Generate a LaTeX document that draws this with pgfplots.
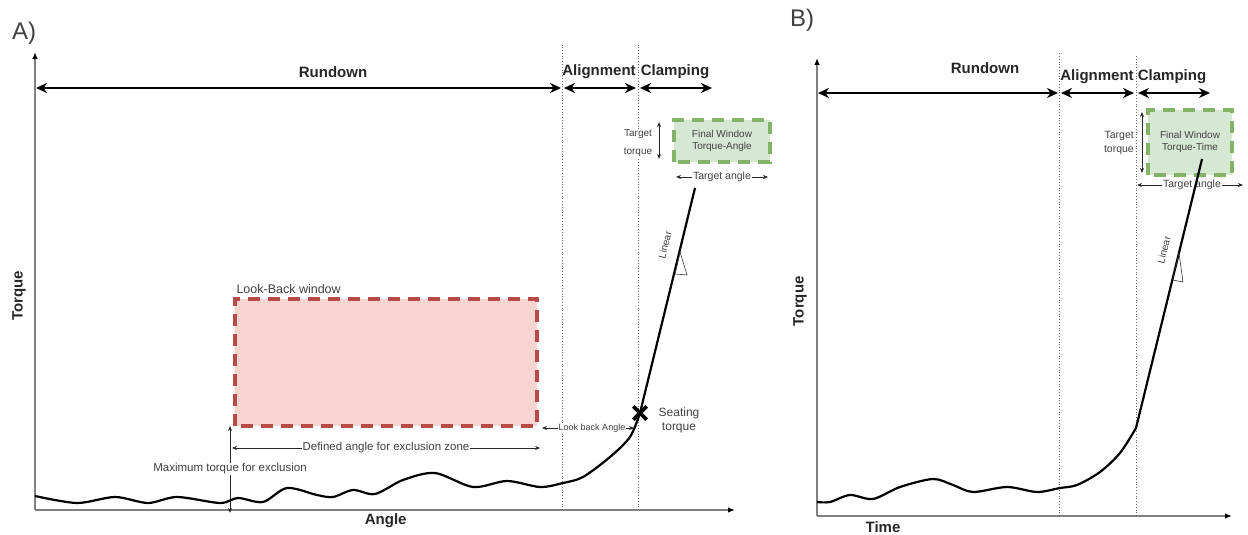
\documentclass[border=0pt]{standalone}
\usepackage{fontspec}
\setmainfont{Liberation Sans}
\usepackage{pgfplots}
\pgfplotsset{compat=1.18}
\usetikzlibrary{arrows.meta}
\definecolor{gfill}{HTML}{D5E8D4}
\definecolor{gline}{HTML}{82B366}
\definecolor{rfill}{HTML}{F9D5D2}
\definecolor{rline}{HTML}{B84A45}
\definecolor{txt}{HTML}{404040}
\definecolor{axgray}{HTML}{808080}
\newcommand{\fs}[1]{\fontsize{#1}{#1}\selectfont}
\tikzset{
  big/.style={line width=2pt, {Stealth[length=11pt,width=10pt,inset=3.5pt]}-{Stealth[length=11pt,width=10pt,inset=3.5pt]}},
  thinarr/.style={line width=0.8pt, color=black!85, {Stealth[length=5pt,width=4pt]}-{Stealth[length=5pt,width=4pt]}},
  vdot/.style={dotted, line width=0.8pt, color=black!60},
  phase/.style={font=\fs{15}\bfseries, text=black!85},
  small/.style={font=\fs{11.5}, text=txt},
}
\pgfplotsset{
  panel/.style={
    x=1pt, y=1pt, axis lines=left, enlargelimits=false, clip=false,
    xtick=\empty, ytick=\empty,
    axis line style={axgray, line width=1.3pt, -{Latex[length=7pt,width=5.5pt,black]}},
    anchor=south west,
    label style={font=\fs{15}\bfseries, text=black!85},
  }
}
\begin{document}
\begin{tikzpicture}
\useasboundingbox (0,0) rectangle (1248pt,535pt);
% ---------------- Panel A ----------------
\begin{axis}[panel, at={(35pt,25pt)}, xmin=35, xmax=735, ymin=25, ymax=483,
  xlabel={Angle}, ylabel={Torque},
  xlabel style={at={(axis description cs:0.501,-0.024)}, anchor=center},
  ylabel style={at={(axis description cs:-0.023,0.467)}, anchor=center, rotate=0},
]
\node[font=\fs{24}, text=black!75] at (axis cs:24,502) {A)};
\draw[vdot] (axis cs:562,25) -- (axis cs:562,490);
\draw[vdot] (axis cs:638,25) -- (axis cs:638,490);
\draw[big] (axis cs:36,447) -- (axis cs:561,447);
\draw[big] (axis cs:564,447) -- (axis cs:636,447);
\draw[big] (axis cs:640,447) -- (axis cs:712,447);
\node[phase] at (axis cs:333,463) {Rundown};
\node[phase] at (axis cs:599,463) {Alignment};
\node[phase] at (axis cs:675,463) {Clamping};
% look-back window
\draw[rline, fill=rfill, line width=3.5pt, dash pattern=on 12pt off 8pt] (axis cs:235,109) rectangle (axis cs:537,236);
\node[font=\fs{12.5}, text=txt, anchor=west] at (axis cs:233,246) {Look-Back window};
\draw[thinarr] (axis cs:230,109) -- (axis cs:230,22);
\node[small, fill=white, inner sep=1pt] at (axis cs:230,66) {Maximum torque for exclusion};
\draw[thinarr] (axis cs:232,87) -- (axis cs:540,87);
\node[small, fill=white, inner sep=1pt] at (axis cs:386,87) {Defined angle for exclusion zone};
\draw[thinarr] (axis cs:542,107) -- (axis cs:634,107);
\node[font=\fs{9}, text=txt, fill=white, inner sep=1pt] at (axis cs:592,107) {Look back Angle};
% final window
\draw[gline, fill=gfill, line width=3.5pt, dash pattern=on 12pt off 8pt] (axis cs:674,373) rectangle (axis cs:770,415);
\node[font=\fontsize{10}{12}\selectfont, text=txt, align=center] at (axis cs:722,394) {Final Window\\Torque-Angle};
\node[font=\fontsize{10}{18}\selectfont, text=txt, align=center, fill=white, inner sep=1pt] at (axis cs:638,392) {Target\\torque};
\draw[thinarr] (axis cs:659,413) -- (axis cs:659,376);
\draw[thinarr] (axis cs:676,358) -- (axis cs:768,358);
\node[font=\fs{10.5}, text=txt, fill=white, inner sep=1pt] at (axis cs:722,358) {Target angle};
% curve
\addplot[black, line width=2.2pt, smooth, tension=0.5] coordinates {(35,39)(77,32)(115,38)(148,32)(177,38)(220,32)(238,37)(263,33)(287,47)(317,40)(333,38)(353,45)(375,41)(403,55)(435,62)(473,48)(507,54)(540,48)(563,52)(583,58)(610,78)(630,98)(640,122)};
\addplot[black, line width=2.2pt] coordinates {(640,122)(695,347)};
\addplot[black, line width=3.6pt, mark=x, mark size=9.5pt, only marks] coordinates {(640,122)};
\node[font=\fontsize{12}{14}\selectfont, text=txt, align=center] at (axis cs:679,115) {Seating\\torque};
\node[font=\fs{10}, text=txt, rotate=76] at (axis cs:665,290) {Linear};
\draw[black!80, line width=0.6pt] (axis cs:680,283) -- (axis cs:675,261) -- (axis cs:687,260) -- cycle;
\end{axis}
% ---------------- Panel B ----------------
\begin{axis}[panel, at={(817pt,19pt)}, xmin=817, xmax=1232, ymin=19, ymax=477,
  xlabel={Time}, ylabel={Torque},
  xlabel style={at={(axis description cs:0.159,-0.024)}, anchor=center},
  ylabel style={at={(axis description cs:-0.041,0.469)}, anchor=center, rotate=0},
]
\node[font=\fs{24}, text=black!75] at (axis cs:802,515) {B)};
\draw[vdot] (axis cs:1059,19) -- (axis cs:1059,483);
\draw[vdot] (axis cs:1136,19) -- (axis cs:1136,480);
\draw[big] (axis cs:818,442) -- (axis cs:1058,442);
\draw[big] (axis cs:1061,442) -- (axis cs:1134,442);
\draw[big] (axis cs:1138,442) -- (axis cs:1210,442);
\node[phase] at (axis cs:985,467) {Rundown};
\node[phase] at (axis cs:1097,458) {Alignment};
\node[phase] at (axis cs:1172,458) {Clamping};
\draw[gline, fill=gfill, line width=3.5pt, dash pattern=on 12pt off 8pt] (axis cs:1148,360) rectangle (axis cs:1232,425);
\node[font=\fontsize{10}{12}\selectfont, text=txt, align=center] at (axis cs:1190,393) {Final Window\\Torque-Time};
\draw[thinarr] (axis cs:1142,423) -- (axis cs:1142,362);
\node[font=\fontsize{10.5}{14}\selectfont, text=txt, align=right, anchor=east, inner sep=1pt] at (axis cs:1135,392) {Target\\torque};
\draw[thinarr] (axis cs:1137,350) -- (axis cs:1243,350);
\node[font=\fs{10.5}, text=txt, fill=white, inner sep=1pt] at (axis cs:1192,350) {Target angle};
\addplot[black, line width=2.2pt, smooth, tension=0.5] coordinates {(817,33)(830,33)(850,40)(873,36)(900,48)(933,56)(953,50)(973,43)(1007,48)(1037,43)(1060,47)(1077,50)(1100,63)(1120,82)(1136,107)};
\addplot[black, line width=2.2pt] coordinates {(1136,107)(1202,376)};
\node[font=\fs{10}, text=txt, rotate=76] at (axis cs:1164,285) {Linear};
\draw[black!80, line width=0.6pt] (axis cs:1179,282) -- (axis cs:1172.5,255) -- (axis cs:1183,253) -- cycle;
\end{axis}
\end{tikzpicture}
\end{document}
